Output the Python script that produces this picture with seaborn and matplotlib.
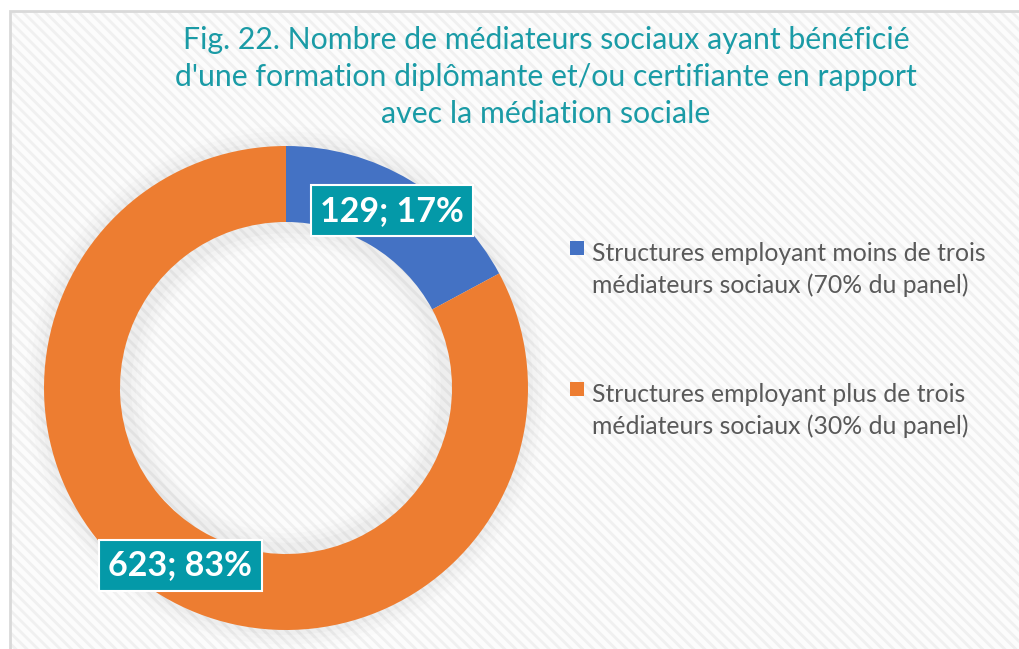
import matplotlib.pyplot as plt
import matplotlib.patches as mpatches
from matplotlib.legend_handler import HandlerPatch
import seaborn as sns

# data
categories = ['Structures employant moins de trois\nmédiateurs sociaux (70% du panel)',
              'Structures employant plus de trois\nmédiateurs sociaux (30% du panel)']
values = [129, 623]
colors = ['#4472C4', '#ED7D31']
title = ("Fig. 22. Nombre de médiateurs sociaux ayant bénéficié\n"
         "d'une formation diplômante et/ou certifiante en rapport\n"
         "avec la médiation sociale")

sns.set_theme(style="white")
plt.rcParams['font.family'] = ['Lato', 'DejaVu Sans']
plt.rcParams['hatch.linewidth'] = 2.0

W, H = 1019, 649
fig = plt.figure(figsize=(W / 100, H / 100), dpi=100, facecolor='white')

# hatched chart area with a thin border
bg = mpatches.Rectangle((10 / W, 0), 1.2, 1 - 11 / H, transform=fig.transFigure,
                        facecolor='#FCFCFC', edgecolor='#F0F0F0', hatch='\\\\\\',
                        linewidth=0, zorder=-2)
fig.patches.append(bg)
frame = mpatches.Rectangle((10 / W, -0.2), 1.2, 1.2 - 11 / H, transform=fig.transFigure,
                           facecolor='none', edgecolor='#D9D9D9', linewidth=2, zorder=-1)
fig.patches.append(frame)

# donut: centre (286, 388) px, radius 242 px
cx, cy, r = 286, 388, 242
ax = fig.add_axes([(cx - 1.1 * r) / W, 1 - (cy + 1.1 * r) / H, 2.2 * r / W, 2.2 * r / H])
ax.set_zorder(2)
ax.patch.set_alpha(0)

# soft shadow around the ring
for k, a in enumerate([0.05, 0.04, 0.03, 0.02]):
    ax.add_patch(mpatches.Wedge((0, 0), 1.0 + 0.02 * (k + 1), 0, 360,
                                width=0.34 + 0.04 * (k + 1),
                                facecolor='#9A9A9A', alpha=a, linewidth=0))


def fmt(pct):
    val = round(pct * sum(values) / 100)
    return f"{val}; {pct:.0f}%"


wedges, texts, autotexts = ax.pie(
    values, colors=colors, startangle=90, counterclock=False,
    radius=1.0, wedgeprops=dict(width=0.314, linewidth=0),
    autopct=fmt, pctdistance=0.853,
    textprops=dict(color='white', fontsize=24.5, fontweight='bold'))
for t in autotexts:
    t.set_bbox(dict(boxstyle='square,pad=0.28', facecolor='#0499A8',
                    edgecolor='white', linewidth=1.5))
ax.set_xlim(-1.1, 1.1)
ax.set_ylim(-1.1, 1.1)
ax.set_aspect('equal')
ax.axis('off')

fig.text(546 / W, 1 - 77 / H, title, ha='center', va='center',
         color='#1A9BA6', fontsize=21.8, linespacing=1.37)


# square legend key sitting next to the first line of each label
def top_square(legend, orig_handle, xdescent, ydescent, width, height, fontsize):
    s = 0.57 * fontsize
    return mpatches.Rectangle((-xdescent, -ydescent + height - s + 0.4 * fontsize), s, s)


leg = fig.legend(wedges, categories, loc='upper left',
                 bbox_to_anchor=(548 / W, 1 - 220 / H), frameon=False,
                 fontsize=17.8, labelcolor='#595959', handlelength=0.57,
                 handleheight=2.2, handletextpad=0.3, labelspacing=3.5,
                 handler_map={mpatches.Wedge: HandlerPatch(patch_func=top_square)})
for t in leg.get_texts():
    t.set_linespacing(1.4)

fig.savefig('out.png', dpi=100, facecolor='white')
